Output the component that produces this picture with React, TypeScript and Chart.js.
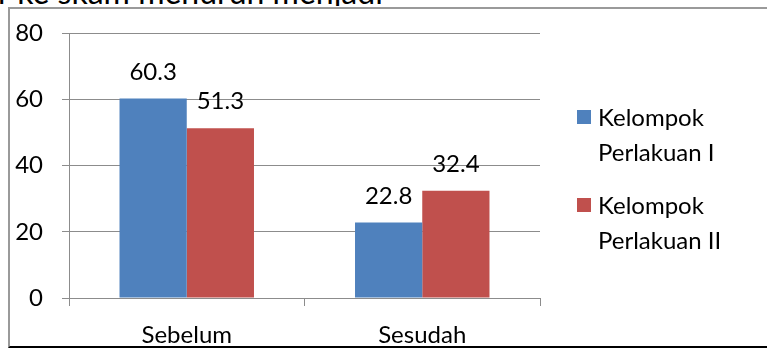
import React, { useEffect, useRef } from "react";
import { Chart, registerables } from "chart.js";

Chart.register(...registerables);

const categories = ["Sebelum", "Sesudah"];
const seriesNames = ["Kelompok Perlakuan I", "Kelompok Perlakuan II"];
const legendLines = [
  ["Kelompok", "Perlakuan I"],
  ["Kelompok", "Perlakuan II"],
];
const groupI = [60.3, 22.8];
const groupII = [51.3, 32.4];
const seriesColors = ["#4F81BD", "#C0504D"];
const yTicks = [0, 20, 40, 60, 80];
const topText = "r ke skam menurun menjadi";

const FONT = "Lato, 'Open Sans', sans-serif";
const FS = 24;
const GRID = "#8c8c8c";

const valueLabels = {
  id: "valueLabels",
  afterDatasetsDraw(chart: any) {
    const ctx = chart.ctx;
    ctx.save();
    ctx.font = `${FS}px ${FONT}`;
    ctx.fillStyle = "#000";
    ctx.textAlign = "center";
    ctx.textBaseline = "alphabetic";
    chart.data.datasets.forEach((ds: any, i: number) => {
      const meta = chart.getDatasetMeta(i);
      meta.data.forEach((bar: any, j: number) => {
        ctx.fillText(String(ds.data[j]), bar.x, bar.y - 19);
      });
    });
    ctx.restore();
  },
};

export default function App() {
  const ref = useRef<HTMLCanvasElement>(null);
  useEffect(() => {
    if (!ref.current) return;
    const chart = new Chart(ref.current, {
      type: "bar",
      data: {
        labels: categories,
        datasets: [
          { label: seriesNames[0], data: groupI, backgroundColor: seriesColors[0], categoryPercentage: 0.571, barPercentage: 1 },
          { label: seriesNames[1], data: groupII, backgroundColor: seriesColors[1], categoryPercentage: 0.571, barPercentage: 1 },
        ],
      },
      options: {
        animation: false,
        responsive: false,
        devicePixelRatio: 1,
        layout: { padding: { left: 0, top: 31, right: 227, bottom: 0 } },
        plugins: { legend: { display: false }, tooltip: { enabled: false } },
        scales: {
          x: {
            offset: true,
            grid: { offset: true, drawOnChartArea: false, drawTicks: true, tickLength: 8, color: GRID, lineWidth: 1 },
            border: { display: true, color: GRID, width: 1 },
            ticks: { color: "#000", font: { family: FONT, size: FS }, padding: 15 },
            afterFit: (s: any) => { s.height = 50; },
          },
          y: {
            min: 0,
            max: 80,
            afterBuildTicks: (s: any) => { s.ticks = yTicks.map((v) => ({ value: v })); },
            grid: { drawTicks: true, tickLength: 7, color: GRID, lineWidth: 1 },
            border: { display: true, color: GRID, width: 1 },
            ticks: { color: "#000", font: { family: FONT, size: FS }, padding: 19 },
            afterFit: (s: any) => { s.width = 69; },
          },
        },
      },
      plugins: [valueLabels],
    });
    return () => chart.destroy();
  }, []);

  return (
    <div style={{ position: "fixed", left: 0, top: 0, width: 767, height: 348, overflow: "hidden", background: "#fff", fontFamily: FONT }}>
      <div style={{ position: "absolute", left: 0, top: 0, width: 767, height: 6, overflow: "hidden" }}>
        <div style={{ position: "absolute", left: -2, top: -24, fontSize: 32, lineHeight: "32px", whiteSpace: "nowrap", color: "#000" }}>
          {topText}
        </div>
      </div>
      <div style={{ position: "absolute", left: 8, top: 7, width: 800, height: 341, boxSizing: "border-box", borderLeft: "2px solid #9a9a9a", borderTop: "2px solid #9a9a9a", borderBottom: "2px solid #000" }} />
      <canvas ref={ref} width={767} height={348} style={{ position: "absolute", left: 0, top: 0, width: 767, height: 348 }} />
      {legendLines.map((lines, i) => (
        <div key={i} style={{ position: "absolute", left: 577, top: 99 + i * 88, fontSize: FS, lineHeight: "35px", color: "#000" }}>
          <div style={{ position: "absolute", left: 0, top: 11, width: 14, height: 14, background: seriesColors[i] }} />
          {lines.map((t, k) => (
            <div key={k} style={{ marginLeft: 21, whiteSpace: "nowrap" }}>{t}</div>
          ))}
        </div>
      ))}
    </div>
  );
}
